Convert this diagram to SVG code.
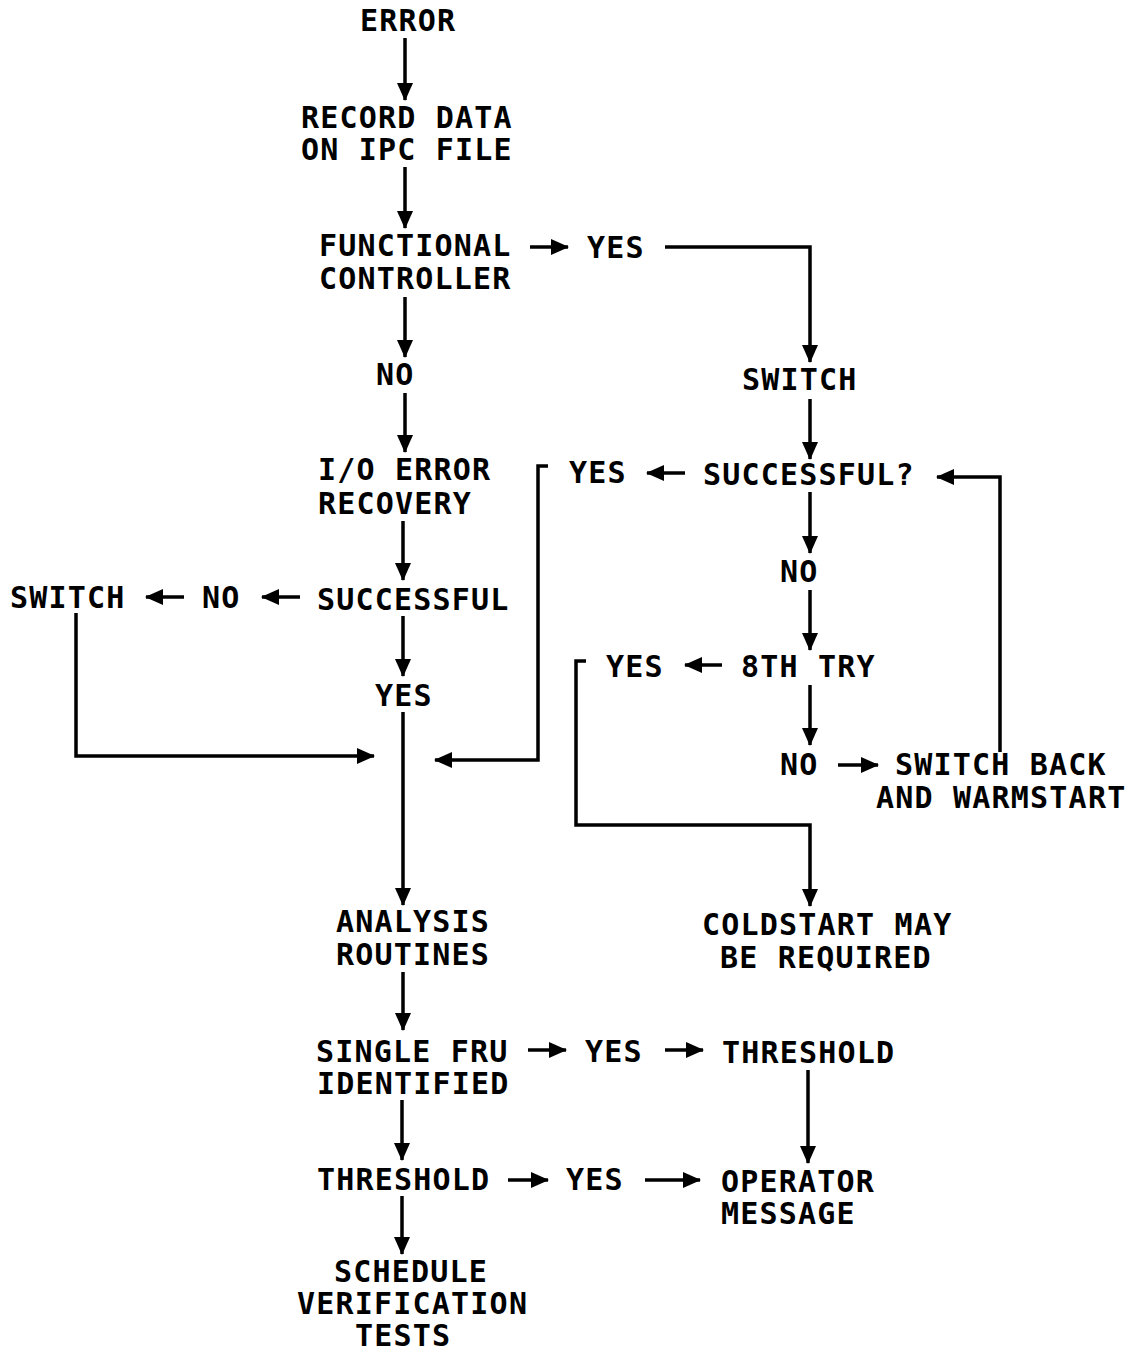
<svg xmlns="http://www.w3.org/2000/svg" width="1139" height="1354" viewBox="0 0 1139 1354">
<style>
text{font-family:"DejaVu Sans Mono","Liberation Mono",monospace;font-weight:bold;font-size:30px;letter-spacing:1.2px;fill:#000}
.c{fill:none;stroke:#000;stroke-width:3.5}
</style>
<defs>
<marker id="ah" markerUnits="userSpaceOnUse" markerWidth="18" markerHeight="16" viewBox="0 0 18 16" refX="17" refY="8" orient="auto">
<path d="M0,0 L18,8 L0,16 Z" fill="#000"/>
</marker>
</defs>
<rect width="1139" height="1354" fill="#fff"/>
<g id="connectors">
<path class="c" d="M405,38 V100" marker-end="url(#ah)"/>
<path class="c" d="M405,167 V228" marker-end="url(#ah)"/>
<path class="c" d="M405,297 V357" marker-end="url(#ah)"/>
<path class="c" d="M405,393 V452" marker-end="url(#ah)"/>
<path class="c" d="M403,521 V580" marker-end="url(#ah)"/>
<path class="c" d="M403,616 V676" marker-end="url(#ah)"/>
<path class="c" d="M403,712 V905" marker-end="url(#ah)"/>
<path class="c" d="M76,613 V756 H374" marker-end="url(#ah)"/>
<path class="c" d="M548,466 H538 V760 H435" marker-end="url(#ah)"/>
<path class="c" d="M530,247 H568" marker-end="url(#ah)"/>
<path class="c" d="M665,247 H810 V362" marker-end="url(#ah)"/>
<path class="c" d="M300,597 H262" marker-end="url(#ah)"/>
<path class="c" d="M184,597 H146" marker-end="url(#ah)"/>
<path class="c" d="M810,399 V459" marker-end="url(#ah)"/>
<path class="c" d="M685,473 H647" marker-end="url(#ah)"/>
<path class="c" d="M810,492 V553" marker-end="url(#ah)"/>
<path class="c" d="M810,590 V650" marker-end="url(#ah)"/>
<path class="c" d="M722,665 H685" marker-end="url(#ah)"/>
<path class="c" d="M586,661 H576 V825 H810 V906" marker-end="url(#ah)"/>
<path class="c" d="M810,685 V745" marker-end="url(#ah)"/>
<path class="c" d="M838,765 H878" marker-end="url(#ah)"/>
<path class="c" d="M1000,752 V477 H937" marker-end="url(#ah)"/>
<path class="c" d="M403,972 V1030" marker-end="url(#ah)"/>
<path class="c" d="M528,1050 H566" marker-end="url(#ah)"/>
<path class="c" d="M665,1050 H703" marker-end="url(#ah)"/>
<path class="c" d="M808,1070 V1163" marker-end="url(#ah)"/>
<path class="c" d="M402,1100 V1160" marker-end="url(#ah)"/>
<path class="c" d="M508,1180 H548" marker-end="url(#ah)"/>
<path class="c" d="M645,1180 H700" marker-end="url(#ah)"/>
<path class="c" d="M402,1196 V1254" marker-end="url(#ah)"/>
</g>
<g id="n-error"><text x="360" y="31">ERROR</text></g>
<g id="n-record"><text x="301" y="128">RECORD DATA</text><text x="301" y="160">ON IPC FILE</text></g>
<g id="n-functional"><text x="319" y="256">FUNCTIONAL</text><text x="319" y="289">CONTROLLER</text></g>
<g id="n-yes1"><text x="587" y="258">YES</text></g>
<g id="n-switch-r"><text x="742" y="390">SWITCH</text></g>
<g id="n-no1"><text x="376" y="385">NO</text></g>
<g id="n-io"><text x="318" y="480">I/O ERROR</text><text x="318" y="514">RECOVERY</text></g>
<g id="n-successful"><text x="317" y="610">SUCCESSFUL</text></g>
<g id="n-no2"><text x="202" y="608">NO</text></g>
<g id="n-switch-l"><text x="10" y="608">SWITCH</text></g>
<g id="n-yes2"><text x="375" y="706">YES</text></g>
<g id="n-successful-q"><text x="703" y="485">SUCCESSFUL?</text></g>
<g id="n-yes3"><text x="569" y="483">YES</text></g>
<g id="n-no3"><text x="780" y="582">NO</text></g>
<g id="n-8th"><text x="741" y="677">8TH TRY</text></g>
<g id="n-yes4"><text x="606" y="677">YES</text></g>
<g id="n-no4"><text x="780" y="775">NO</text></g>
<g id="n-switchback"><text x="895" y="775">SWITCH BACK</text><text x="876" y="808">AND WARMSTART</text></g>
<g id="n-coldstart"><text x="702" y="935">COLDSTART MAY</text><text x="720" y="968">BE REQUIRED</text></g>
<g id="n-analysis"><text x="336" y="932">ANALYSIS</text><text x="336" y="965">ROUTINES</text></g>
<g id="n-single"><text x="316" y="1062">SINGLE FRU</text><text x="317" y="1094">IDENTIFIED</text></g>
<g id="n-yes5"><text x="585" y="1062">YES</text></g>
<g id="n-threshold-r"><text x="722" y="1063">THRESHOLD</text></g>
<g id="n-operator"><text x="721" y="1192">OPERATOR</text><text x="721" y="1224">MESSAGE</text></g>
<g id="n-threshold-l"><text x="317" y="1190">THRESHOLD</text></g>
<g id="n-yes6"><text x="566" y="1190">YES</text></g>
<g id="n-schedule"><text x="334" y="1282">SCHEDULE</text><text x="297" y="1314">VERIFICATION</text><text x="355" y="1346">TESTS</text></g>
</svg>
